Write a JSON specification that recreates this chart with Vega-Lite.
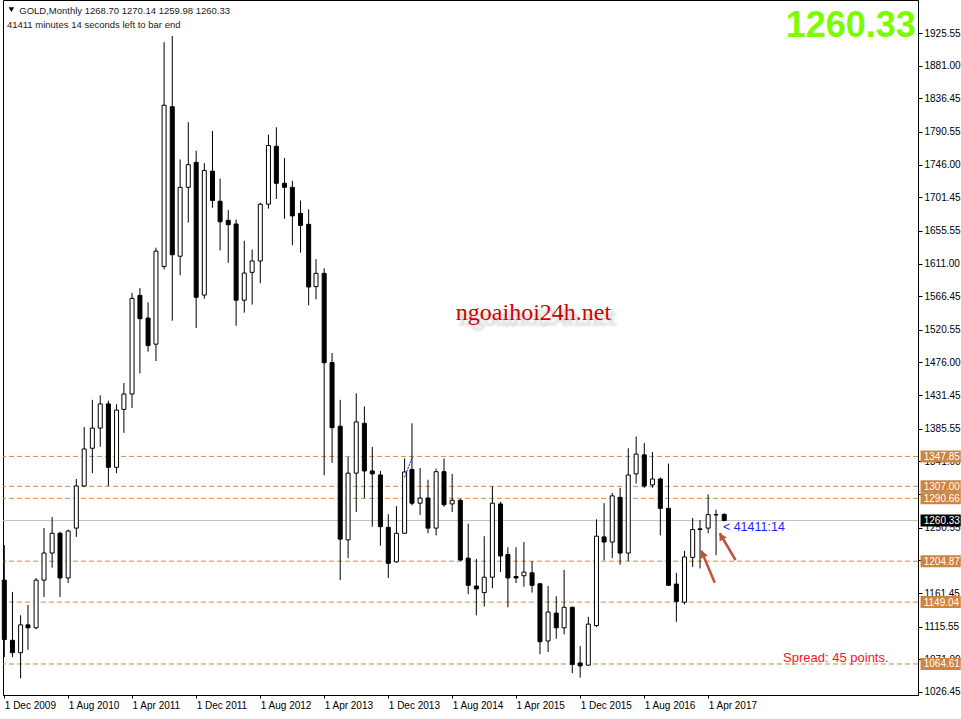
{
  "$schema": "https://vega.github.io/schema/vega-lite/v6.json",
  "width": 915,
  "height": 695,
  "autosize": {"type": "none"},
  "padding": {"left": 3, "top": 0, "right": 43, "bottom": 24},
  "background": "white",
  "config": {
    "view": {"stroke": "black", "strokeWidth": 1},
    "font": "Liberation Sans",
    "axis": {"labelOverlap": false, "labelFlush": false},
    "scale": {"continuousPadding": 0}
  },
  "datasets": {
    "candles": [
      {"date": "2009-12-01", "open": 1179, "high": 1227, "low": 1074, "close": 1098},
      {"date": "2010-01-01", "open": 1097, "high": 1163, "low": 1074, "close": 1080},
      {"date": "2010-02-01", "open": 1080, "high": 1131, "low": 1045, "close": 1118},
      {"date": "2010-03-01", "open": 1118, "high": 1145, "low": 1084, "close": 1114},
      {"date": "2010-04-01", "open": 1114, "high": 1182, "low": 1112, "close": 1179},
      {"date": "2010-05-01", "open": 1179, "high": 1250, "low": 1156, "close": 1216},
      {"date": "2010-06-01", "open": 1216, "high": 1265, "low": 1196, "close": 1243},
      {"date": "2010-07-01", "open": 1243, "high": 1245, "low": 1156, "close": 1182},
      {"date": "2010-08-01", "open": 1182, "high": 1248, "low": 1175, "close": 1246},
      {"date": "2010-09-01", "open": 1250, "high": 1317, "low": 1238, "close": 1307.5},
      {"date": "2010-10-01", "open": 1307.5, "high": 1388, "low": 1306, "close": 1358},
      {"date": "2010-11-01", "open": 1359, "high": 1425, "low": 1325, "close": 1386.5},
      {"date": "2010-12-01", "open": 1386.5, "high": 1431, "low": 1361, "close": 1419.5},
      {"date": "2011-01-01", "open": 1419.5, "high": 1424, "low": 1307.5, "close": 1333},
      {"date": "2011-02-01", "open": 1333, "high": 1419, "low": 1325, "close": 1411},
      {"date": "2011-03-01", "open": 1412, "high": 1448, "low": 1380, "close": 1433},
      {"date": "2011-04-01", "open": 1433, "high": 1571, "low": 1414, "close": 1563.5},
      {"date": "2011-05-01", "open": 1567.6, "high": 1577.6, "low": 1461, "close": 1535.8},
      {"date": "2011-06-01", "open": 1536.6, "high": 1558, "low": 1490.7, "close": 1499},
      {"date": "2011-07-01", "open": 1501, "high": 1632.6, "low": 1478, "close": 1628},
      {"date": "2011-08-01", "open": 1607, "high": 1913, "low": 1603, "close": 1827},
      {"date": "2011-09-01", "open": 1825, "high": 1921.5, "low": 1533, "close": 1623},
      {"date": "2011-10-01", "open": 1621, "high": 1753, "low": 1595, "close": 1715},
      {"date": "2011-11-01", "open": 1715, "high": 1804, "low": 1667, "close": 1746},
      {"date": "2011-12-01", "open": 1749, "high": 1765, "low": 1523, "close": 1565},
      {"date": "2012-01-01", "open": 1568, "high": 1748, "low": 1563, "close": 1738},
      {"date": "2012-02-01", "open": 1737, "high": 1792, "low": 1687, "close": 1697},
      {"date": "2012-03-01", "open": 1696, "high": 1727, "low": 1629, "close": 1668},
      {"date": "2012-04-01", "open": 1670, "high": 1684, "low": 1612, "close": 1664},
      {"date": "2012-05-01", "open": 1665, "high": 1671, "low": 1526, "close": 1561},
      {"date": "2012-06-01", "open": 1561, "high": 1642, "low": 1544, "close": 1598},
      {"date": "2012-07-01", "open": 1599, "high": 1630, "low": 1555, "close": 1614.5},
      {"date": "2012-08-01", "open": 1614.5, "high": 1694, "low": 1584, "close": 1692},
      {"date": "2012-09-01", "open": 1692, "high": 1787, "low": 1686, "close": 1772},
      {"date": "2012-10-01", "open": 1771, "high": 1797, "low": 1699, "close": 1720.5},
      {"date": "2012-11-01", "open": 1720.5, "high": 1755, "low": 1672, "close": 1715},
      {"date": "2012-12-01", "open": 1715, "high": 1724, "low": 1636, "close": 1676},
      {"date": "2013-01-01", "open": 1679.5, "high": 1697, "low": 1626, "close": 1663},
      {"date": "2013-02-01", "open": 1664.5, "high": 1685, "low": 1554, "close": 1579},
      {"date": "2013-03-01", "open": 1579.5, "high": 1617, "low": 1562, "close": 1597.6},
      {"date": "2013-04-01", "open": 1597.6, "high": 1604.5, "low": 1322, "close": 1475.7},
      {"date": "2013-05-01", "open": 1476, "high": 1489, "low": 1339, "close": 1387},
      {"date": "2013-06-01", "open": 1389, "high": 1425, "low": 1179, "close": 1235},
      {"date": "2013-07-01", "open": 1234, "high": 1347, "low": 1209, "close": 1325},
      {"date": "2013-08-01", "open": 1325, "high": 1434, "low": 1272, "close": 1395},
      {"date": "2013-09-01", "open": 1393, "high": 1416, "low": 1291, "close": 1328},
      {"date": "2013-10-01", "open": 1328, "high": 1361, "low": 1252, "close": 1324},
      {"date": "2013-11-01", "open": 1322.5, "high": 1328, "low": 1226, "close": 1252},
      {"date": "2013-12-01", "open": 1251, "high": 1269, "low": 1182, "close": 1202},
      {"date": "2014-01-01", "open": 1204, "high": 1280, "low": 1203, "close": 1243},
      {"date": "2014-02-01", "open": 1243, "high": 1345, "low": 1242, "close": 1326.6},
      {"date": "2014-03-01", "open": 1330, "high": 1393, "low": 1281, "close": 1284},
      {"date": "2014-04-01", "open": 1284, "high": 1332, "low": 1268, "close": 1291},
      {"date": "2014-05-01", "open": 1291, "high": 1316, "low": 1243, "close": 1250},
      {"date": "2014-06-01", "open": 1250, "high": 1331, "low": 1240, "close": 1327},
      {"date": "2014-07-01", "open": 1327, "high": 1345, "low": 1279, "close": 1282},
      {"date": "2014-08-01", "open": 1283, "high": 1324, "low": 1272, "close": 1288},
      {"date": "2014-09-01", "open": 1288, "high": 1290, "low": 1205, "close": 1206.5},
      {"date": "2014-10-01", "open": 1209, "high": 1256, "low": 1160, "close": 1172},
      {"date": "2014-11-01", "open": 1171, "high": 1208, "low": 1131, "close": 1167},
      {"date": "2014-12-01", "open": 1162, "high": 1239, "low": 1143, "close": 1183},
      {"date": "2015-01-01", "open": 1183, "high": 1307, "low": 1168, "close": 1284},
      {"date": "2015-02-01", "open": 1283, "high": 1286, "low": 1190, "close": 1212},
      {"date": "2015-03-01", "open": 1214, "high": 1224, "low": 1142, "close": 1182},
      {"date": "2015-04-01", "open": 1184, "high": 1224, "low": 1175, "close": 1182},
      {"date": "2015-05-01", "open": 1185, "high": 1231, "low": 1170, "close": 1190},
      {"date": "2015-06-01", "open": 1189, "high": 1205, "low": 1162, "close": 1172},
      {"date": "2015-07-01", "open": 1174, "high": 1175, "low": 1078, "close": 1095},
      {"date": "2015-08-01", "open": 1096, "high": 1171, "low": 1081, "close": 1135.5},
      {"date": "2015-09-01", "open": 1134, "high": 1157, "low": 1099, "close": 1114},
      {"date": "2015-10-01", "open": 1114, "high": 1193, "low": 1105, "close": 1142},
      {"date": "2015-11-01", "open": 1142, "high": 1143, "low": 1052, "close": 1064},
      {"date": "2015-12-01", "open": 1066, "high": 1089, "low": 1046, "close": 1062},
      {"date": "2016-01-01", "open": 1063, "high": 1129, "low": 1062, "close": 1119},
      {"date": "2016-02-01", "open": 1117, "high": 1262, "low": 1115, "close": 1239},
      {"date": "2016-03-01", "open": 1238, "high": 1284, "low": 1206, "close": 1231},
      {"date": "2016-04-01", "open": 1231, "high": 1298, "low": 1209, "close": 1294},
      {"date": "2016-05-01", "open": 1292, "high": 1305, "low": 1200, "close": 1216},
      {"date": "2016-06-01", "open": 1216, "high": 1359, "low": 1205, "close": 1322.5},
      {"date": "2016-07-01", "open": 1324, "high": 1375, "low": 1311, "close": 1351},
      {"date": "2016-08-01", "open": 1350, "high": 1366, "low": 1305, "close": 1307.5},
      {"date": "2016-09-01", "open": 1309, "high": 1354, "low": 1305, "close": 1317},
      {"date": "2016-10-01", "open": 1317, "high": 1319, "low": 1240, "close": 1277},
      {"date": "2016-11-01", "open": 1277, "high": 1338, "low": 1171, "close": 1172},
      {"date": "2016-12-01", "open": 1173.7, "high": 1189, "low": 1122, "close": 1150},
      {"date": "2017-01-01", "open": 1149, "high": 1219, "low": 1146, "close": 1210.6},
      {"date": "2017-02-01", "open": 1210, "high": 1264, "low": 1197, "close": 1248},
      {"date": "2017-03-01", "open": 1249, "high": 1261, "low": 1195, "close": 1248},
      {"date": "2017-04-01", "open": 1250, "high": 1296, "low": 1243, "close": 1268.4},
      {"date": "2017-05-01", "open": 1268.3, "high": 1275, "low": 1213, "close": 1268},
      {"date": "2017-06-01", "open": 1268.7, "high": 1270.14, "low": 1259.98, "close": 1260.33}
    ],
    "levels": [
      {"price": 1347.85, "kind": "level"},
      {"price": 1307.0, "kind": "level"},
      {"price": 1290.66, "kind": "level"},
      {"price": 1204.87, "kind": "level"},
      {"price": 1149.04, "kind": "level"},
      {"price": 1064.61, "kind": "level"},
      {"price": 1260.33, "kind": "bid"}
    ]
  },
  "layer": [
    {
      "data": {"name": "levels"},
      "transform": [{"filter": "datum.kind == 'bid'"}],
      "mark": {"type": "rule", "stroke": "#C0C0C0", "strokeWidth": 1},
      "encoding": {
        "y": {"field": "price", "type": "quantitative", "title": null,
          "scale": {"type": "linear", "padding": 0, "domain": [1022.3, 1970.6], "zero": false, "nice": false},
          "axis": {
            "orient": "right", "title": null, "grid": false,
            "values": [1925.55, 1881.0, 1836.45, 1790.55, 1746.0, 1701.45, 1655.55, 1611.0, 1566.45, 1520.55, 1476.0, 1431.45, 1385.55, 1341.0, 1296.45, 1250.55, 1206.0, 1161.45, 1115.55, 1071.0, 1026.45],
            "tickCount": 40,
            "format": ".2f",
            "labelFont": "Liberation Sans", "labelFontSize": 10, "labelColor": "black",
            "labelPadding": 2, "labelFlush": false, "labelOverlap": false, "labelSeparation": 0,
            "tickSize": 4, "tickColor": "black", "domainColor": "black"
          }}
      }
    },
    {
      "data": {"name": "levels"},
      "transform": [{"filter": "datum.kind == 'level'"}],
      "mark": {"type": "rule", "stroke": "#DB8636", "strokeWidth": 1, "strokeDash": [5, 3]},
      "encoding": {
        "y": {"field": "price", "type": "quantitative", "title": null,
          "scale": {"type": "linear", "padding": 0, "domain": [1022.3, 1970.6], "zero": false, "nice": false}}
      }
    },
    {
      "data": {"name": "candles"},
      "mark": {"type": "rule", "stroke": "black", "strokeWidth": 1},
      "encoding": {
        "x": {"field": "date", "type": "temporal", "title": null,
          "scale": {"type": "utc", "padding": 0, "domain": [
            {"year": 2009, "month": 11, "date": 26, "hours": 1, "utc": true},
            {"year": 2019, "month": 6, "date": 8, "hours": 8, "utc": true}]},
          "axis": {
            "orient": "bottom", "title": null, "grid": false,
            "values": [
              {"year": 2009, "month": 12, "date": 1, "utc": true},
              {"year": 2010, "month": 8, "date": 1, "utc": true},
              {"year": 2011, "month": 4, "date": 1, "utc": true},
              {"year": 2011, "month": 12, "date": 1, "utc": true},
              {"year": 2012, "month": 8, "date": 1, "utc": true},
              {"year": 2013, "month": 4, "date": 1, "utc": true},
              {"year": 2013, "month": 12, "date": 1, "utc": true},
              {"year": 2014, "month": 8, "date": 1, "utc": true},
              {"year": 2015, "month": 4, "date": 1, "utc": true},
              {"year": 2015, "month": 12, "date": 1, "utc": true},
              {"year": 2016, "month": 8, "date": 1, "utc": true},
              {"year": 2017, "month": 4, "date": 1, "utc": true}
            ],
            "tickCount": 40,
            "format": "%-d %b %Y",
            "labelAlign": "left", "labelBaseline": "top", "labelPadding": 2,
            "labelFlush": false, "labelOverlap": false,
            "labelFont": "Liberation Sans", "labelFontSize": 10, "labelColor": "black",
            "tickSize": 3, "tickColor": "black", "domainColor": "black"
          }},
        "y": {"field": "low", "type": "quantitative", "title": null,
          "scale": {"type": "linear", "padding": 0, "domain": [1022.3, 1970.6], "zero": false, "nice": false}},
        "y2": {"field": "high"}
      }
    },
    {
      "data": {"name": "candles"},
      "mark": {"type": "bar", "width": 4, "stroke": "black", "strokeWidth": 1, "orient": "vertical"},
      "encoding": {
        "x": {"field": "date", "type": "temporal", "title": null,
          "scale": {"type": "utc", "padding": 0, "domain": [
            {"year": 2009, "month": 11, "date": 26, "hours": 1, "utc": true},
            {"year": 2019, "month": 6, "date": 8, "hours": 8, "utc": true}]}},
        "y": {"field": "open", "type": "quantitative", "title": null,
          "scale": {"type": "linear", "padding": 0, "domain": [1022.3, 1970.6], "zero": false, "nice": false}},
        "y2": {"field": "close"},
        "fill": {"condition": {"test": "datum.close > datum.open", "value": "white"}, "value": "black"}
      }
    },
    {
      "data": {"values": [
        {"date": "2014-02-01", "price": 1319.3},
        {"date": "2014-03-02", "price": 1346.6}
      ]},
      "mark": {"type": "line", "stroke": "#0000FF", "strokeWidth": 1, "strokeDash": [2, 1]},
      "encoding": {
        "x": {"field": "date", "type": "temporal", "title": null,
          "scale": {"type": "utc", "padding": 0, "domain": [
            {"year": 2009, "month": 11, "date": 26, "hours": 1, "utc": true},
            {"year": 2019, "month": 6, "date": 8, "hours": 8, "utc": true}]}},
        "y": {"field": "price", "type": "quantitative", "title": null,
          "scale": {"type": "linear", "padding": 0, "domain": [1022.3, 1970.6], "zero": false, "nice": false}}
      }
    },
    {
      "data": {"values": [
        {"tail": "2017-04-26", "tailPrice": 1175.5, "head": "2017-03-06", "headPrice": 1219.2},
        {"tail": "2017-07-14", "tailPrice": 1206.5, "head": "2017-05-15", "headPrice": 1243.0}
      ]},
      "mark": {"type": "rule", "stroke": "#C0523C", "strokeWidth": 2.5},
      "encoding": {
        "x": {"field": "tail", "type": "temporal", "title": null,
          "scale": {"type": "utc", "padding": 0, "domain": [
            {"year": 2009, "month": 11, "date": 26, "hours": 1, "utc": true},
            {"year": 2019, "month": 6, "date": 8, "hours": 8, "utc": true}]}},
        "x2": {"field": "head"},
        "y": {"field": "tailPrice", "type": "quantitative", "title": null,
          "scale": {"type": "linear", "padding": 0, "domain": [1022.3, 1970.6], "zero": false, "nice": false}},
        "y2": {"field": "headPrice"}
      }
    },
    {
      "data": {"values": [
        {"date": "2017-03-11", "price": 1215.0, "angle": 337},
        {"date": "2017-05-21", "price": 1238.8, "angle": 329}
      ]},
      "mark": {"type": "point", "shape": "triangle-up", "filled": true, "fill": "#C0523C", "size": 70, "opacity": 1},
      "encoding": {
        "x": {"field": "date", "type": "temporal", "title": null,
          "scale": {"type": "utc", "padding": 0, "domain": [
            {"year": 2009, "month": 11, "date": 26, "hours": 1, "utc": true},
            {"year": 2019, "month": 6, "date": 8, "hours": 8, "utc": true}]}},
        "y": {"field": "price", "type": "quantitative", "title": null,
          "scale": {"type": "linear", "padding": 0, "domain": [1022.3, 1970.6], "zero": false, "nice": false}},
        "angle": {"field": "angle", "type": "quantitative", "scale": null}
      }
    },
    {
      "data": {"name": "levels"},
      "mark": {"type": "rect", "yOffset": -6, "y2Offset": 6},
      "encoding": {
        "x": {"datum": {"year": 2019, "month": 6, "date": 18, "utc": true}, "type": "temporal",
          "scale": {"type": "utc", "padding": 0, "domain": [
            {"year": 2009, "month": 11, "date": 26, "hours": 1, "utc": true},
            {"year": 2019, "month": 6, "date": 8, "hours": 8, "utc": true}]}},
        "x2": {"datum": {"year": 2019, "month": 11, "date": 18, "utc": true}},
        "y": {"field": "price", "type": "quantitative", "title": null,
          "scale": {"type": "linear", "padding": 0, "domain": [1022.3, 1970.6], "zero": false, "nice": false}},
        "y2": {"field": "price"},
        "fill": {"condition": {"test": "datum.kind == 'bid'", "value": "black"}, "value": "#CD853F"}
      }
    },
    {
      "data": {"name": "levels"},
      "mark": {"type": "text", "align": "left", "baseline": "middle", "font": "Liberation Sans", "fontSize": 10, "color": "white", "dy": 0.5},
      "encoding": {
        "x": {"datum": {"year": 2019, "month": 6, "date": 30, "utc": true}, "type": "temporal",
          "scale": {"type": "utc", "padding": 0, "domain": [
            {"year": 2009, "month": 11, "date": 26, "hours": 1, "utc": true},
            {"year": 2019, "month": 6, "date": 8, "hours": 8, "utc": true}]}},
        "y": {"field": "price", "type": "quantitative", "title": null,
          "scale": {"type": "linear", "padding": 0, "domain": [1022.3, 1970.6], "zero": false, "nice": false}},
        "text": {"field": "price", "type": "quantitative", "format": ".2f"}
      }
    },
    {
      "data": {"values": [{"date": "2009-12-28", "price": 1957.6}]},
      "mark": {"type": "point", "shape": "triangle-down", "filled": true, "fill": "black", "size": 30, "opacity": 1},
      "encoding": {
        "x": {"field": "date", "type": "temporal", "title": null,
          "scale": {"type": "utc", "padding": 0, "domain": [
            {"year": 2009, "month": 11, "date": 26, "hours": 1, "utc": true},
            {"year": 2019, "month": 6, "date": 8, "hours": 8, "utc": true}]}},
        "y": {"field": "price", "type": "quantitative", "title": null,
          "scale": {"type": "linear", "padding": 0, "domain": [1022.3, 1970.6], "zero": false, "nice": false}}
      }
    },
    {
      "data": {"values": [
        {"date": "2010-01-27", "price": 1951.5, "text": "GOLD,Monthly  1268.70 1270.14 1259.98 1260.33"},
        {"date": "2009-12-11", "price": 1933.0, "text": "41411 minutes 14 seconds left to bar end"}
      ]},
      "mark": {"type": "text", "align": "left", "baseline": "alphabetic", "font": "Liberation Sans", "fontSize": 9.5, "color": "#1a1a1a"},
      "encoding": {
        "x": {"field": "date", "type": "temporal", "title": null,
          "scale": {"type": "utc", "padding": 0, "domain": [
            {"year": 2009, "month": 11, "date": 26, "hours": 1, "utc": true},
            {"year": 2019, "month": 6, "date": 8, "hours": 8, "utc": true}]}},
        "y": {"field": "price", "type": "quantitative", "title": null,
          "scale": {"type": "linear", "padding": 0, "domain": [1022.3, 1970.6], "zero": false, "nice": false}},
        "text": {"field": "text", "type": "nominal"}
      }
    },
    {
      "data": {"values": [{"date": "2019-05-31", "price": 1920.1, "text": "1260.33"}]},
      "mark": {"type": "text", "align": "right", "baseline": "alphabetic", "font": "Liberation Sans", "fontSize": 36, "fontWeight": "bold", "color": "#7CFC00"},
      "encoding": {
        "x": {"field": "date", "type": "temporal", "title": null,
          "scale": {"type": "utc", "padding": 0, "domain": [
            {"year": 2009, "month": 11, "date": 26, "hours": 1, "utc": true},
            {"year": 2019, "month": 6, "date": 8, "hours": 8, "utc": true}]}},
        "y": {"field": "price", "type": "quantitative", "title": null,
          "scale": {"type": "linear", "padding": 0, "domain": [1022.3, 1970.6], "zero": false, "nice": false}},
        "text": {"field": "text", "type": "nominal"}
      }
    },
    {
      "data": {"values": [{"date": "2014-08-15", "price": 1534, "text": "ngoaihoi24h.net"}]},
      "mark": {"type": "text", "align": "left", "baseline": "alphabetic", "font": "Liberation Serif", "fontSize": 24, "fill": "#9a9a9a", "fillOpacity": 0.2, "stroke": "#9a9a9a", "strokeWidth": 4, "strokeOpacity": 0.15, "dx": 4, "dy": 5},
      "encoding": {
        "x": {"field": "date", "type": "temporal", "title": null,
          "scale": {"type": "utc", "padding": 0, "domain": [
            {"year": 2009, "month": 11, "date": 26, "hours": 1, "utc": true},
            {"year": 2019, "month": 6, "date": 8, "hours": 8, "utc": true}]}},
        "y": {"field": "price", "type": "quantitative", "title": null,
          "scale": {"type": "linear", "padding": 0, "domain": [1022.3, 1970.6], "zero": false, "nice": false}},
        "text": {"field": "text", "type": "nominal"}
      }
    },
    {
      "data": {"values": [{"date": "2014-08-15", "price": 1534, "text": "ngoaihoi24h.net"}]},
      "mark": {"type": "text", "align": "left", "baseline": "alphabetic", "font": "Liberation Serif", "fontSize": 24, "color": "#D00000"},
      "encoding": {
        "x": {"field": "date", "type": "temporal", "title": null,
          "scale": {"type": "utc", "padding": 0, "domain": [
            {"year": 2009, "month": 11, "date": 26, "hours": 1, "utc": true},
            {"year": 2019, "month": 6, "date": 8, "hours": 8, "utc": true}]}},
        "y": {"field": "price", "type": "quantitative", "title": null,
          "scale": {"type": "linear", "padding": 0, "domain": [1022.3, 1970.6], "zero": false, "nice": false}},
        "text": {"field": "text", "type": "nominal"}
      }
    },
    {
      "data": {"values": [{"date": "2018-01-11", "price": 1067.4, "text": "Spread: 45 points."}]},
      "mark": {"type": "text", "align": "left", "baseline": "alphabetic", "font": "Liberation Sans", "fontSize": 13, "color": "#FF1020"},
      "encoding": {
        "x": {"field": "date", "type": "temporal", "title": null,
          "scale": {"type": "utc", "padding": 0, "domain": [
            {"year": 2009, "month": 11, "date": 26, "hours": 1, "utc": true},
            {"year": 2019, "month": 6, "date": 8, "hours": 8, "utc": true}]}},
        "y": {"field": "price", "type": "quantitative", "title": null,
          "scale": {"type": "linear", "padding": 0, "domain": [1022.3, 1970.6], "zero": false, "nice": false}},
        "text": {"field": "text", "type": "nominal"}
      }
    },
    {
      "data": {"values": [{"date": "2017-05-27", "price": 1246, "text": "< 41411:14"}]},
      "mark": {"type": "text", "align": "left", "baseline": "alphabetic", "font": "Liberation Sans", "fontSize": 12.5, "color": "#1E1EFF"},
      "encoding": {
        "x": {"field": "date", "type": "temporal", "title": null,
          "scale": {"type": "utc", "padding": 0, "domain": [
            {"year": 2009, "month": 11, "date": 26, "hours": 1, "utc": true},
            {"year": 2019, "month": 6, "date": 8, "hours": 8, "utc": true}]}},
        "y": {"field": "price", "type": "quantitative", "title": null,
          "scale": {"type": "linear", "padding": 0, "domain": [1022.3, 1970.6], "zero": false, "nice": false}},
        "text": {"field": "text", "type": "nominal"}
      }
    }
  ]
}
